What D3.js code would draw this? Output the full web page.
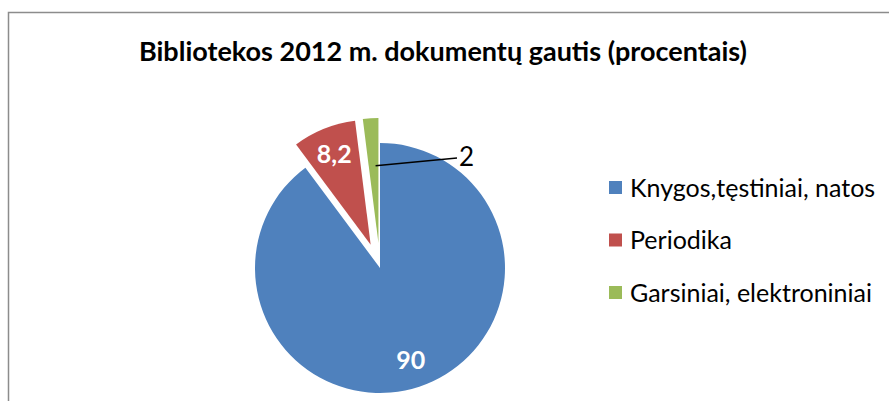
<!DOCTYPE html>
<html>
<head>
<meta charset="utf-8">
<script src="https://cdn.jsdelivr.net/npm/d3@7"></script>
<style>
  body { margin: 0; background: #fff; }
  svg { display: block; }
</style>
</head>
<body>
<svg id="chart" width="889" height="401"></svg>
<script>
/* Chart data */
const categories = ["Knygos,tęstiniai, natos", "Periodika", "Garsiniai, elektroniniai"];
const values = [90, 8.2, 2];
const valueLabels = ["90", "8,2", "2"];
const colors = ["#4F81BD", "#C0504D", "#9BBB59"];
const exploded = [false, true, true];

const svg = d3.select("#chart");
const fontFam = "Lato, 'Open Sans', sans-serif";

/* Constants needed to build pie */
const cx = 380;
const cy = 268;
const radius = 125;
const explodeDist = 25;

/* chart frame */
svg.append("rect")
    .attr("x", 8.5)
    .attr("y", 12.5)
    .attr("width", 1000)
    .attr("height", 500)
    .style("fill", "none")
    .style("stroke", "#8c8c8c")
    .style("stroke-width", 1.5);

/* title */
svg.append("text")
    .attr("x", 443)
    .attr("y", 52)
    .attr("dy", "0.35em")
    .attr("text-anchor", "middle")
    .style("font-family", fontFam)
    .style("font-size", "27px")
    .style("font-weight", "700")
    .text("Bibliotekos 2012 m. dokumentų gautis (procentais)");

var pie = d3.pie()
    .sort(null)
    .value(d => d);

var arc = d3.arc()
    .innerRadius(0)
    .outerRadius(radius);

var labelArc = d3.arc()
    .innerRadius(radius * 0.78)
    .outerRadius(radius * 0.78);

const arcs = pie(values);

/* offset of each slice from center */
function sliceOffset(d, i) {
    if (!exploded[i]) return [0, 0];
    const mid = (d.startAngle + d.endAngle) / 2;
    return [Math.sin(mid) * explodeDist, -Math.cos(mid) * explodeDist];
}

const slices = svg.selectAll(".slice").data(arcs)
    .enter()
    .append("g")
    .attr("class", "slice")
    .attr("transform", function (d, i) {
        const o = sliceOffset(d, i);
        return "translate(" + (cx + o[0]) + "," + (cy + o[1]) + ")";
    });

slices.append("path")
    .attr("d", arc)
    .style("fill", (d, i) => colors[i]);

/* inside labels for big slices */
slices.filter((d, i) => i < 2)
    .append("text")
    .attr("transform", d => "translate(" + labelArc.centroid(d) + ")")
    .attr("text-anchor", "middle")
    .attr("dy", "0.35em")
    .style("font-family", fontFam)
    .style("font-size", "25px")
    .style("font-weight", "700")
    .style("fill", "#fff")
    .text((d, i) => valueLabels[i]);

/* outside label with leader line for smallest slice */
const small = arcs[2];
const so = sliceOffset(small, 2);
const smallMid = (small.startAngle + small.endAngle) / 2;
const lineStart = [
    cx + so[0] + Math.sin(smallMid) * radius * 0.62 + 2,
    cy + so[1] - Math.cos(smallMid) * radius * 0.62
];
const textPos = [457, 158];

svg.append("line")
    .attr("x1", lineStart[0])
    .attr("y1", lineStart[1])
    .attr("x2", textPos[0])
    .attr("y2", textPos[1])
    .style("stroke", "#000")
    .style("stroke-width", 1.5);

svg.append("text")
    .attr("x", textPos[0] + 2)
    .attr("y", textPos[1] - 1)
    .attr("dy", "0.35em")
    .style("font-family", fontFam)
    .style("font-size", "26px")
    .style("fill", "#000")
    .text(valueLabels[2]);

/* legend */
var legendY = d3.scalePoint()
    .domain(categories)
    .range([188, 293]);

const legend = svg.selectAll(".legend").data(categories)
    .enter()
    .append("g")
    .attr("class", "legend")
    .attr("transform", d => "translate(609," + legendY(d) + ")");

legend.append("rect")
    .attr("x", 0)
    .attr("y", -7)
    .attr("width", 13)
    .attr("height", 13)
    .style("fill", (d, i) => colors[i]);

legend.append("text")
    .attr("x", 21)
    .attr("y", 0)
    .attr("dy", "0.35em")
    .style("font-family", fontFam)
    .style("font-size", "25px")
    .style("fill", "#000")
    .text(d => d);
</script>
</body>
</html>
